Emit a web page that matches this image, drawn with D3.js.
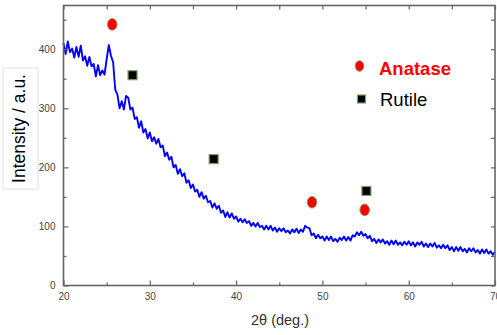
<!DOCTYPE html>
<html>
<head>
<meta charset="utf-8">
<script src="https://cdn.jsdelivr.net/npm/d3@7"></script>
<style>
  body { margin: 0; background: #fff; }
  svg { display: block; font-family: Arial, "Liberation Sans", sans-serif; }
</style>
</head>
<body>
<div id="root"></div>
<script>
// XRD pattern, 2theta from 20 to 70 in 0.25 deg steps
const startAngle = 20;
const stepAngle = 0.25;
const intensity = [
  410, 392, 413, 395, 401, 386, 404, 387, 406, 381, 388, 372, 387, 371, 375, 354, 373, 356, 364, 357,
  383, 407, 389, 378, 331, 323, 300, 312, 298, 321, 318, 298, 301, 282, 285, 267, 278, 259, 265, 249,
  259, 244, 251, 240, 248, 234, 237, 219, 225, 213, 218, 200, 204, 189, 197, 185, 190, 174, 178, 165,
  171, 159, 162, 150, 158, 147, 152, 141, 143, 132, 139, 130, 135, 123, 127, 116, 124, 115, 122, 113,
  117, 108, 113, 107, 112, 106, 109, 101, 106, 100, 106, 99, 101, 95, 101, 95, 101, 93, 98, 91,
  97, 92, 97, 90, 93, 88, 95, 90, 96, 89, 95, 91, 101, 98, 97, 85, 88, 80, 86, 80,
  83, 76, 83, 77, 83, 75, 79, 74, 81, 77, 83, 76, 82, 76, 85, 83, 90, 85, 91, 84,
  87, 80, 84, 75, 79, 72, 78, 73, 78, 71, 75, 69, 76, 70, 76, 69, 73, 68, 74, 69,
  75, 68, 73, 66, 73, 69, 74, 66, 71, 65, 71, 66, 72, 64, 68, 63, 69, 63, 68, 60,
  65, 58, 65, 59, 65, 58, 62, 56, 63, 58, 63, 56, 60, 54, 61, 55, 61, 54, 58, 52,
  57
];

// phase markers
const anataseAngles = [25.65, 48.8, 54.9];
const anataseHeights = [442, 141, 128];
const rutileAngles = [28.0, 37.4, 55.1];
const rutileHeights = [356, 214, 160];

const xTicks = [20, 30, 40, 50, 60, 70];
const xMinor = [25, 35, 45, 55, 65];
const yTicks = [0, 100, 200, 300, 400];
const yMinor = [50, 150, 250, 350, 450];

const W = 497, H = 335;
const margin = { top: 5.5, right: 2, bottom: 49.5, left: 63.5 };
const width = W - margin.left - margin.right;
const height = H - margin.top - margin.bottom;

const svg = d3.select("#root").append("svg")
  .attr("width", W)
  .attr("height", H);

// box behind the y title
svg.append("rect").attr("x", 3).attr("y", 68).attr("width", 35).attr("height", 121)
  .attr("fill", "#fff").attr("stroke", "#e2e2e2").attr("stroke-width", 1);

const g = svg.append("g")
  .attr("transform", `translate(${margin.left},${margin.top})`);

const x = d3.scaleLinear().domain([20, 70]).range([0, width]);
const y = d3.scaleLinear().domain([0, 474]).range([height, 0]);

const data = intensity.map((v, i) => ({ t: startAngle + i * stepAngle, v }));

// curve
g.append("path")
  .datum(data)
  .attr("fill", "none")
  .attr("stroke", "#0000ff")
  .attr("stroke-width", 1.9)
  .attr("stroke-linejoin", "round")
  .attr("d", d3.line().x(d => x(d.t)).y(d => y(d.v)));

// axes, ticks pointing inward on all sides
const axisColor = "#666";
function styleAxis(sel, fontSize) {
  sel.select(".domain").remove();
  sel.selectAll(".tick line").attr("stroke", axisColor).attr("stroke-width", 1.2);
  sel.selectAll(".tick text").attr("fill", "#444").attr("font-size", fontSize)
    .attr("font-family", "Arial, 'Liberation Sans', sans-serif");
}

g.append("g").attr("transform", `translate(0,${height})`)
  .call(d3.axisBottom(x).tickValues(xTicks).tickSize(-5).tickPadding(7).tickFormat(d3.format("d")))
  .call(s => styleAxis(s, 10));
g.append("g").attr("transform", `translate(0,${height})`)
  .call(d3.axisBottom(x).tickValues(xMinor).tickSize(-3).tickFormat(""))
  .call(s => styleAxis(s, 9));
g.append("g")
  .call(d3.axisTop(x).tickValues(xTicks.concat(xMinor)).tickSize(-4).tickFormat(""))
  .call(s => styleAxis(s, 9));

g.append("g")
  .call(d3.axisLeft(y).tickValues(yTicks).tickSize(-5).tickPadding(8).tickFormat(d3.format("d")))
  .call(s => styleAxis(s, 10));
g.append("g")
  .call(d3.axisLeft(y).tickValues(yMinor).tickSize(-3).tickFormat(""))
  .call(s => styleAxis(s, 9));
g.append("g").attr("transform", `translate(${width},0)`)
  .call(d3.axisRight(y).tickValues(yTicks.concat(yMinor)).tickSize(-4).tickFormat(""))
  .call(s => styleAxis(s, 9));

// frame
g.append("rect")
  .attr("width", width).attr("height", height)
  .attr("fill", "none").attr("stroke", axisColor).attr("stroke-width", 1.6);

// markers
const markerStroke = "#7f9f5f";
g.selectAll(".anatase").data(anataseAngles).enter().append("ellipse")
  .attr("class", "anatase")
  .attr("cx", d => x(d))
  .attr("cy", (d, i) => y(anataseHeights[i]))
  .attr("rx", 4.8).attr("ry", 5.8)
  .attr("fill", "#ff0000").attr("stroke", markerStroke).attr("stroke-width", 1);

g.selectAll(".rutile").data(rutileAngles).enter().append("rect")
  .attr("class", "rutile")
  .attr("x", d => x(d) - 4.5)
  .attr("y", (d, i) => y(rutileHeights[i]) - 4.5)
  .attr("width", 9).attr("height", 9)
  .attr("fill", "#000").attr("stroke", markerStroke).attr("stroke-width", 1.2);

// legend
svg.append("ellipse").attr("cx", 359.5).attr("cy", 66).attr("rx", 4.3).attr("ry", 5.3)
  .attr("fill", "#ff0000").attr("stroke", markerStroke).attr("stroke-width", 1);
svg.append("text").attr("x", 379).attr("y", 74.5)
  .attr("font-size", 18.5).attr("font-weight", "bold").attr("fill", "#ff0000")
  .text("Anatase");
svg.append("rect").attr("x", 357.5).attr("y", 95).attr("width", 8).attr("height", 8)
  .attr("fill", "#000").attr("stroke", markerStroke).attr("stroke-width", 1.2);
svg.append("text").attr("x", 380).attr("y", 105.5)
  .attr("font-size", 18.5).attr("fill", "#000")
  .text("Rutile");

// axis titles
svg.append("text")
  .attr("transform", "translate(25,128.5) rotate(-90)")
  .attr("text-anchor", "middle")
  .attr("font-size", 17.5).attr("fill", "#000")
  .text("Intensity / a.u.");

svg.append("text")
  .attr("x", 280).attr("y", 324.5)
  .attr("text-anchor", "middle")
  .attr("font-size", 14.5).attr("fill", "#333")
  .text("2θ (deg.)");
</script>
</body>
</html>
